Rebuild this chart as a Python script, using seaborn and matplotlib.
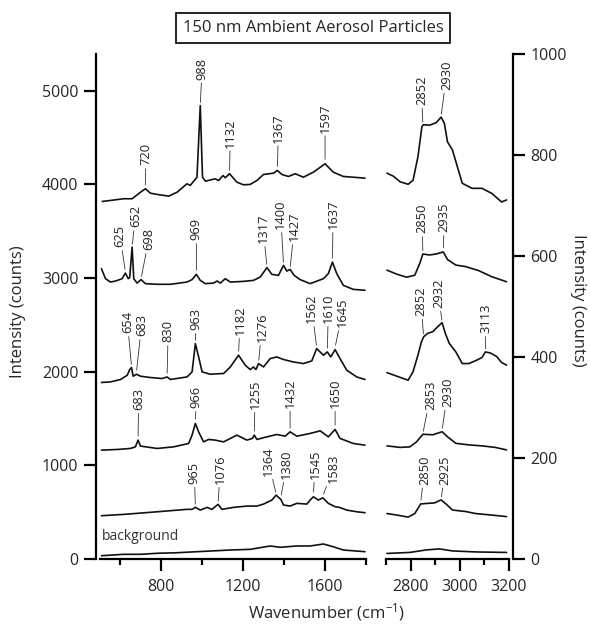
import matplotlib
matplotlib.use("Agg")
import matplotlib.pyplot as plt
import seaborn as sns
import pandas as pd

# Raman spectra of 150 nm ambient aerosol particles
# low-wavenumber region (left axis, counts)
t1_wn = [511, 616, 657, 698, 722, 746, 779, 836, 877, 925, 941, 974, 990, 1001, 1015, 1063, 1080, 1101, 1112, 1133,
         1169, 1201, 1234, 1267, 1299, 1348, 1367, 1389, 1421, 1454, 1494, 1543, 1600, 1640, 1689, 1738, 1795]
t1_int = [3816, 3845, 3845, 3915, 3952, 3905, 3891, 3873, 3915, 4005, 3987, 4075, 4840, 4075, 4033, 4058, 4040, 4093, 4069, 4112,
          4022, 3994, 3998, 4040, 4104, 4118, 4147, 4104, 4083, 4112, 4075, 4129, 4218, 4129, 4083, 4075, 4065]

t2_wn = [507, 527, 551, 576, 608, 624, 638, 645, 657, 665, 681, 701, 722, 779, 844, 925, 950, 971, 990, 1015,
         1055, 1072, 1088, 1112, 1137, 1201, 1250, 1283, 1316, 1340, 1372, 1397, 1413, 1429, 1449, 1478, 1527, 1592, 1616, 1636,
         1657, 1689, 1738, 1795]
t2_int = [3099, 2992, 2956, 2967, 2992, 3052, 2992, 3003, 3329, 2992, 2945, 2982, 2939, 2932, 2932, 2956, 2982, 3038, 2974, 2939,
          2945, 2967, 2945, 2992, 2956, 2963, 2974, 3009, 3110, 3038, 3027, 3134, 3073, 3091, 3027, 2982, 2939, 2992, 3046, 3169,
          3046, 2921, 2878, 2868]

t3_wn = [507, 551, 600, 633, 645, 654, 662, 678, 698, 746, 803, 828, 844, 925, 950, 966, 982, 999, 1039, 1104,
         1137, 1177, 1210, 1234, 1250, 1262, 1275, 1299, 1332, 1364, 1397, 1445, 1494, 1535, 1559, 1592, 1611, 1628, 1649, 1673,
         1706, 1755, 1795]
t3_int = [1884, 1890, 1916, 1961, 2022, 2044, 1951, 1972, 1951, 1937, 1926, 1943, 1916, 1943, 1997, 2299, 2157, 1997, 1972, 1980,
          2050, 2175, 2068, 2022, 2050, 2022, 2086, 2050, 2139, 2157, 2129, 2103, 2086, 2114, 2246, 2175, 2210, 2157, 2235, 2139,
          2015, 1943, 1916]

t4_wn = [507, 584, 649, 673, 686, 698, 779, 860, 933, 950, 966, 982, 1006, 1031, 1063, 1104, 1169, 1218, 1245, 1254,
         1267, 1316, 1364, 1405, 1429, 1462, 1527, 1576, 1616, 1649, 1673, 1738, 1795]
t4_int = [1162, 1169, 1180, 1197, 1269, 1205, 1180, 1197, 1233, 1322, 1447, 1357, 1250, 1276, 1269, 1250, 1322, 1269, 1287, 1322,
          1276, 1304, 1329, 1311, 1357, 1311, 1340, 1368, 1304, 1383, 1287, 1233, 1215]

t5_wn = [507, 616, 779, 925, 950, 966, 990, 1023, 1047, 1077, 1096, 1153, 1218, 1267, 1299, 1340, 1361, 1372, 1384, 1397,
         1429, 1462, 1511, 1527, 1543, 1567, 1589, 1616, 1649, 1670, 1706, 1755, 1795]
t5_int = [462, 476, 504, 530, 530, 551, 522, 551, 530, 583, 530, 551, 565, 565, 586, 629, 682, 658, 636, 576,
          565, 594, 586, 629, 664, 629, 653, 594, 558, 551, 522, 504, 494]

bg_wn = [507, 616, 698, 779, 877, 974, 1039, 1137, 1234, 1332, 1381, 1462, 1527, 1592, 1640, 1689, 1795]
bg_int = [35, 50, 50, 61, 67, 78, 85, 96, 103, 139, 125, 139, 139, 160, 131, 96, 78]

# C-H stretch region (right axis, counts)
r1_wn = [2704, 2730, 2757, 2790, 2810, 2830, 2846, 2852, 2877, 2904, 2924, 2937, 2950, 2970, 2990, 3010, 3050, 3090, 3130, 3170, 3190]
r1_int = [764, 758, 747, 742, 750, 797, 856, 860, 859, 864, 875, 863, 826, 810, 777, 744, 734, 734, 724, 707, 711]

r2_wn = [2704, 2744, 2784, 2817, 2837, 2850, 2877, 2904, 2933, 2950, 2984, 3024, 3077, 3130, 3190]
r2_int = [572, 564, 558, 562, 585, 604, 602, 604, 608, 593, 582, 579, 571, 559, 549]

r3_wn = [2704, 2744, 2790, 2810, 2830, 2844, 2853, 2870, 2890, 2910, 2928, 2941, 2957, 2984, 3010, 3037, 3070, 3090, 3104, 3124,
         3150, 3170, 3190]
r3_int = [369, 362, 354, 371, 404, 430, 440, 447, 450, 460, 468, 447, 427, 410, 387, 387, 394, 399, 410, 408,
          401, 389, 384]

r4_wn = [2704, 2757, 2797, 2824, 2850, 2890, 2928, 2950, 2984, 3037, 3090, 3144, 3190]
r4_int = [224, 221, 222, 232, 247, 246, 252, 242, 229, 226, 224, 221, 216]

r5_wn = [2704, 2744, 2790, 2817, 2841, 2864, 2897, 2924, 2944, 2970, 3024, 3064, 3130, 3190]
r5_int = [90, 87, 83, 90, 109, 110, 111, 117, 109, 97, 94, 90, 87, 84]

rbg_wn = [2704, 2797, 2864, 2917, 2970, 3064, 3190]
rbg_int = [11, 13, 18, 20, 16, 14, 13]

# peak labels: (text, peak wn, peak counts, label wn, label bottom counts)
left_peaks = [
    ("720", 722, 3969, 722, 4200), ("988", 990, 4850, 999, 5117), ("1132", 1133, 4125, 1137, 4392),
    ("1367", 1367, 4168, 1372, 4445), ("1597", 1600, 4243, 1600, 4552),
    ("625", 624, 3070, 598, 3326), ("652", 657, 3337, 673, 3539), ("698", 701, 2995, 738, 3294),
    ("969", 971, 3059, 971, 3400), ("1317", 1316, 3123, 1297, 3369), ("1400", 1397, 3145, 1383, 3518),
    ("1427", 1429, 3102, 1450, 3390), ("1637", 1636, 3187, 1639, 3518),
    ("654", 654, 2057, 634, 2409), ("683", 678, 1993, 703, 2377), ("830", 828, 1961, 833, 2313),
    ("963", 966, 2313, 971, 2441), ("1182", 1177, 2196, 1185, 2388), ("1276", 1275, 2100, 1291, 2313),
    ("1562", 1559, 2260, 1535, 2516), ("1610", 1611, 2228, 1616, 2516), ("1645", 1649, 2260, 1684, 2473),
    ("683", 686, 1290, 689, 1588), ("966", 966, 1471, 971, 1610), ("1255", 1254, 1343, 1258, 1599),
    ("1432", 1429, 1375, 1429, 1610), ("1650", 1649, 1407, 1649, 1610),
    ("965", 966, 565, 961, 800), ("1076", 1077, 597, 1088, 800), ("1364", 1361, 693, 1323, 885),
    ("1380", 1384, 661, 1413, 853), ("1545", 1543, 693, 1551, 853), ("1583", 1589, 672, 1640, 810),
]
right_peaks = [
    ("2852", 2850, 861, 2844, 899), ("2930", 2924, 877, 2946, 929),
    ("2850", 2850, 606, 2846, 645), ("2935", 2933, 612, 2937, 647),
    ("2852", 2853, 442, 2841, 481), ("2932", 2928, 469, 2913, 497), ("3113", 3104, 412, 3106, 447),
    ("2853", 2850, 249, 2881, 295), ("2930", 2928, 255, 2950, 301),
    ("2850", 2841, 113, 2857, 147), ("2925", 2924, 119, 2941, 147),
]

sns.set_theme(style="ticks")
plt.rcParams["font.family"] = ["Open Sans", "DejaVu Sans"]
plt.rcParams["mathtext.default"] = "regular"

fig = plt.figure(figsize=(5.9, 6.28), dpi=100)
axL = fig.add_axes([100 / 590, 69 / 628, 266 / 590, 505 / 628])
axR = fig.add_axes([386 / 590, 69 / 628, 123 / 590, 505 / 628])

left_traces = [(t1_wn, t1_int), (t2_wn, t2_int), (t3_wn, t3_int), (t4_wn, t4_int), (t5_wn, t5_int), (bg_wn, bg_int)]
right_traces = [(r1_wn, r1_int), (r2_wn, r2_int), (r3_wn, r3_int), (r4_wn, r4_int), (r5_wn, r5_int), (rbg_wn, rbg_int)]

for ax, traces in [(axL, left_traces), (axR, right_traces)]:
    for wn, counts in traces:
        df = pd.DataFrame({"wn": wn, "counts": counts})
        sns.lineplot(data=df, x="wn", y="counts", ax=ax, color="#111111", lw=1.2,
                     sort=False, estimator=None)

for ax, peaks in [(axL, left_peaks), (axR, right_peaks)]:
    for txt, px, py, tx, ty in peaks:
        ax.annotate(txt, xy=(px, py), xytext=(tx, ty), rotation=90, ha="center", va="bottom",
                    fontsize=9.3, color="#222222",
                    arrowprops=dict(arrowstyle="-", lw=0.6, color="#333333", shrinkA=0, shrinkB=1.5))

axL.text(507, 245, "background", fontsize=10, color="#333333", ha="left", va="center")

axL.set_xlim(500, 1800)
axL.set_ylim(0, 5390)
axR.set_xlim(2700, 3200)
axR.set_ylim(0, 1000)

axL.set_xticks([800, 1200, 1600])
axL.set_xticks([600, 1000, 1400, 1800], minor=True)
axL.set_yticks([0, 1000, 2000, 3000, 4000, 5000])
axR.set_xticks([2800, 3000, 3200])
axR.set_xticks([2700, 2900, 3100], minor=True)
axR.set_yticks([0, 200, 400, 600, 800, 1000])
axR.yaxis.tick_right()

axL.spines[["top", "right"]].set_visible(False)
axR.spines[["top", "left"]].set_visible(False)
axL.spines["left"].set_position(("outward", 3))
axR.spines["right"].set_position(("outward", 3))

for ax in (axL, axR):
    for s in ax.spines.values():
        s.set_linewidth(1.6)
        s.set_color("black")
    ax.tick_params(which="major", length=8.5, width=1.6, labelsize=11.5, color="black")
    ax.tick_params(which="minor", length=4.3, width=1.6, color="black")
    ax.tick_params(axis="x", which="major", pad=6)
    ax.tick_params(axis="y", pad=4)
    ax.set_xlabel("")
    ax.set_ylabel("")
    ax.grid(False)

fig.text(327 / 590, 1 - 612 / 628, "Wavenumber (cm$^{-1}$)", ha="center", va="center", fontsize=12)
fig.text(18 / 590, 1 - 312 / 628, "Intensity (counts)", ha="center", va="center", rotation=90, fontsize=12)
fig.text(578 / 590, 1 - 300 / 628, "Intensity (counts)", ha="center", va="center", rotation=270, fontsize=12)
fig.text(313 / 590, 1 - 28 / 628, "150 nm Ambient Aerosol Particles", ha="center", va="center", fontsize=12,
         bbox=dict(boxstyle="square,pad=0.4", fc="white", ec="black", lw=1.2))

fig.savefig("out.png", dpi=100)
